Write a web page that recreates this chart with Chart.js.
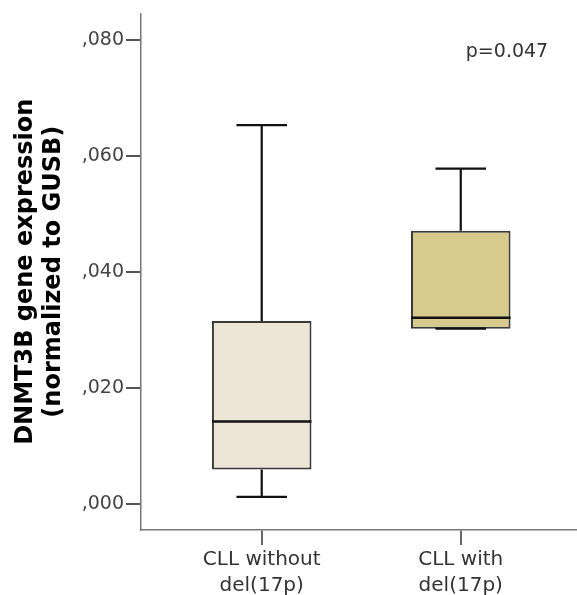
<!DOCTYPE html>
<html>
<head>
<meta charset="utf-8">
<script src="https://cdn.jsdelivr.net/npm/chart.js@4"></script>
<style>
  body { margin: 0; background: #fff; }
</style>
</head>
<body>
<canvas id="box-chart" width="577" height="595"></canvas>
<script>
// data
const groups = [['CLL without', 'del(17p)'], ['CLL with', 'del(17p)']];
const groupPos = [1, 2];
const whiskerMin = [0.0013, 0.0303];
const boxQ1 = [0.0060, 0.0303];
const boxMedian = [0.0143, 0.0322];
const boxQ3 = [0.0316, 0.0472];
const whiskerMax = [0.0654, 0.0579];
const yTickValues = [0, 0.02, 0.04, 0.06, 0.08];
const yTickLabels = [',000', ',020', ',040', ',060', ',080'];
const pLabel = 'p=0.047';

const boxColors = ['#EDE6D6', '#D6CB8C'];

// whiskers, caps and medians, drawn through the chart scales
const boxPlugin = {
	id: 'boxExtras',
	afterDatasetsDraw(chart) {
		const ctx = chart.ctx;
		const x = chart.scales.x;
		const y = chart.scales.y;
		ctx.save();
		ctx.strokeStyle = '#111';
		groupPos.forEach((pos, i) => {
			const cx = x.getPixelForValue(pos);
			const capL = x.getPixelForValue(pos - 0.127);
			const capR = x.getPixelForValue(pos + 0.127);
			const boxL = x.getPixelForValue(pos - 0.25);
			const boxR = x.getPixelForValue(pos + 0.25);
			ctx.lineWidth = 2.2;
			ctx.beginPath();
			// upper whisker
			ctx.moveTo(cx, y.getPixelForValue(boxQ3[i]));
			ctx.lineTo(cx, y.getPixelForValue(whiskerMax[i]));
			ctx.moveTo(capL, y.getPixelForValue(whiskerMax[i]));
			ctx.lineTo(capR, y.getPixelForValue(whiskerMax[i]));
			// lower whisker
			ctx.moveTo(cx, y.getPixelForValue(boxQ1[i]));
			ctx.lineTo(cx, y.getPixelForValue(whiskerMin[i]));
			ctx.moveTo(capL, y.getPixelForValue(whiskerMin[i]));
			ctx.lineTo(capR, y.getPixelForValue(whiskerMin[i]));
			ctx.stroke();
			// median
			ctx.lineWidth = 2.5;
			ctx.beginPath();
			ctx.moveTo(boxL, y.getPixelForValue(boxMedian[i]));
			ctx.lineTo(boxR, y.getPixelForValue(boxMedian[i]));
			ctx.stroke();
		});
		// p value
		ctx.fillStyle = '#333';
		ctx.font = '19px "DejaVu Sans"';
		ctx.textAlign = 'center';
		ctx.textBaseline = 'middle';
		ctx.fillText(pLabel, chart.chartArea.right - 70, chart.chartArea.top + 39);
		ctx.restore();
	}
};

const data = {
	datasets: [{
		type: 'bar',
		data: groupPos.map((pos, i) => ({ x: pos, y: [boxQ1[i], boxQ3[i]] })),
		backgroundColor: boxColors,
		borderColor: '#3a3a3a',
		borderWidth: 2,
		borderSkipped: false,
		categoryPercentage: 1,
		barPercentage: 0.5
	}]
};

const config = {
	type: 'bar',
	data,
	options: {
		responsive: false,
		animation: false,
		layout: {
			padding: { top: 12, right: 0, left: 0, bottom: 0 }
		},
		plugins: {
			legend: { display: false },
			tooltip: { enabled: false }
		},
		scales: {
			x: {
				type: 'linear',
				min: 0.3935,
				max: 2.584,
				offset: false,
				afterBuildTicks: scale => {
					scale.ticks = groupPos.map(v => ({ value: v }));
				},
				afterFit: scale => { scale.height = 65; },
				grid: {
					offset: false,
					drawOnChartArea: false,
					color: '#666',
					lineWidth: 2,
					tickLength: 15
				},
				border: { color: '#777', width: 1.5 },
				ticks: {
					padding: 2,
					color: '#333',
					font: { family: 'DejaVu Sans', size: 20, lineHeight: 1.3 },
					maxRotation: 0,
					autoSkip: false,
					callback: value => groups[groupPos.indexOf(value)]
				}
			},
			y: {
				type: 'linear',
				min: -0.00442,
				max: 0.08466,
				afterBuildTicks: scale => {
					scale.ticks = yTickValues.map(v => ({ value: v }));
				},
				afterFit: scale => { scale.width = 141; },
				grid: {
					drawOnChartArea: false,
					color: '#555',
					lineWidth: 2,
					tickLength: 15
				},
				border: { color: '#777', width: 1.5 },
				ticks: {
					padding: 2,
					color: '#444',
					font: { family: 'DejaVu Sans', size: 19 },
					callback: value => yTickLabels[yTickValues.indexOf(value)]
				},
				title: {
					display: true,
					text: ['DNMT3B gene expression', '(normalized to GUSB)'],
					color: '#000',
					padding: { top: 12, bottom: 0 },
					font: { family: 'DejaVu Sans', size: 24, weight: 'bold', lineHeight: 1.15 }
				}
			}
		}
	},
	plugins: [boxPlugin]
};

new Chart(document.getElementById('box-chart'), config);
</script>
</body>
</html>
